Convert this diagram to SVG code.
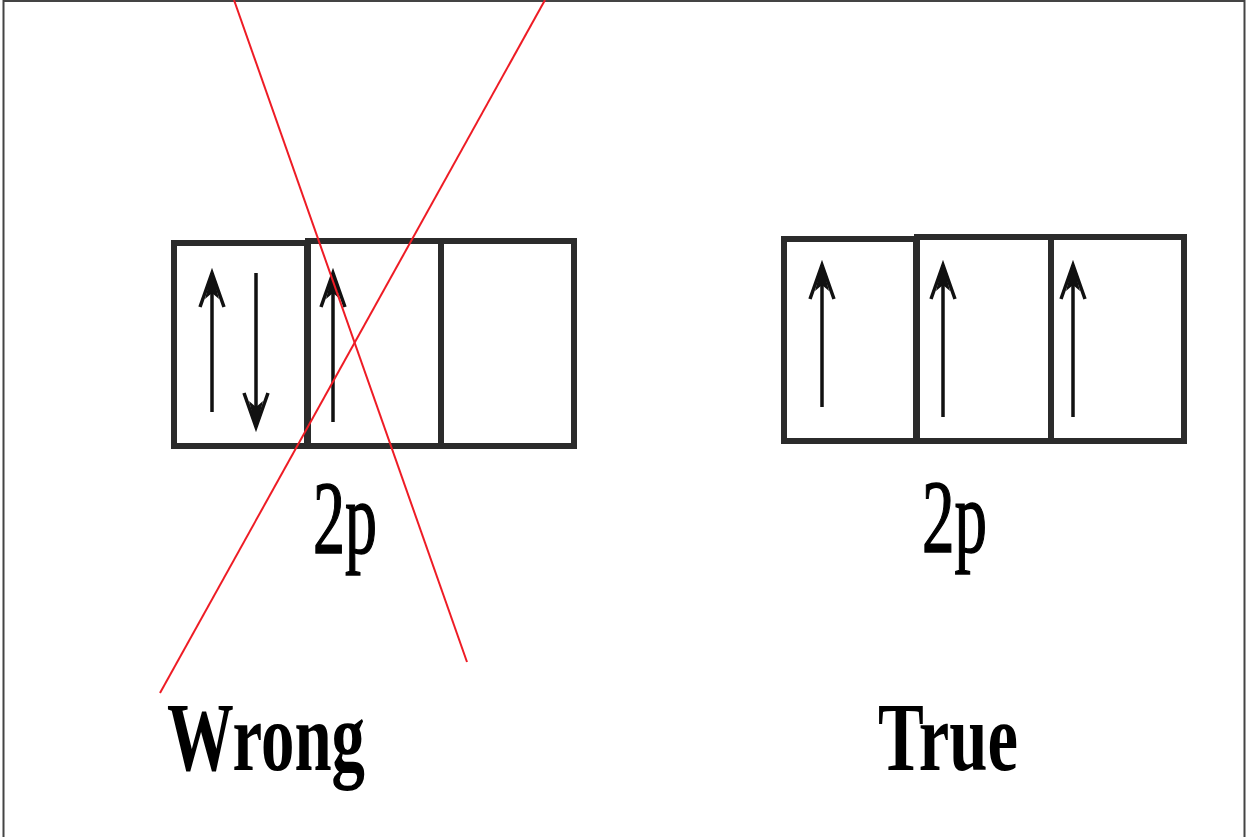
<svg xmlns="http://www.w3.org/2000/svg" width="1249" height="837" viewBox="0 0 1249 837">
  <style>
    .box { fill: none; stroke: #2b2b2b; stroke-width: 6; }
    .spin { stroke: #111; stroke-width: 3.5; fill: none; marker-end: url(#head); }
    .lbl { font-family: "Liberation Serif", "Times New Roman", serif; font-weight: bold; fill: #000; }
    .sub { font-family: "Liberation Serif", "Times New Roman", serif; font-weight: normal; fill: #000; stroke: #000; stroke-width: 1.5; }
    .strike { stroke: #ee1c25; stroke-width: 2; fill: none; }
    .frame { stroke: #444; stroke-width: 2; fill: none; }
  </style>
  <defs>
    <marker id="head" markerUnits="userSpaceOnUse" viewBox="-40 -18 42 36" refX="0" refY="0" markerWidth="42" markerHeight="36" orient="auto" overflow="visible">
      <path d="M-34,-12 L0,0 L-34,12" fill="none" stroke="#111" stroke-width="3.5" stroke-linejoin="miter"/>
      <path d="M1,0 L-26,-7 L-20,0 L-26,7 Z" fill="#111"/>
    </marker>
  </defs>
  <rect width="1249" height="837" fill="#fff"/>
  <path class="frame" d="M3.5,837 V1 H1244.5 V837"/>

  <g id="wrong-orbitals">
    <rect class="box" x="174" y="243" width="133" height="203"/>
    <rect class="box" x="308" y="241" width="266" height="205"/>
    <line class="box" x1="441" y1="241" x2="441" y2="446"/>
    <line class="spin" x1="212" y1="412" x2="212" y2="273"/>
    <line class="spin" x1="256" y1="273" x2="256" y2="427"/>
    <line class="spin" x1="333" y1="422" x2="333" y2="273"/>
    <text class="sub" x="313" y="553" font-size="104" textLength="64" lengthAdjust="spacingAndGlyphs">2p</text>
  </g>

  <g id="true-orbitals">
    <rect class="box" x="784" y="239" width="132" height="202"/>
    <rect class="box" x="917" y="237" width="267" height="204"/>
    <line class="box" x1="1051" y1="237" x2="1051" y2="441"/>
    <line class="spin" x1="822" y1="407" x2="822" y2="265"/>
    <line class="spin" x1="943" y1="417" x2="943" y2="265"/>
    <line class="spin" x1="1073" y1="417" x2="1073" y2="265"/>
    <text class="sub" x="922" y="552" font-size="104" textLength="65" lengthAdjust="spacingAndGlyphs">2p</text>
  </g>

  <g id="strike">
    <line class="strike" x1="234" y1="0" x2="467" y2="662"/>
    <line class="strike" x1="545" y1="0" x2="160" y2="693"/>
  </g>

  <g id="label-wrong">
    <text class="lbl" x="167" y="770" font-size="98" textLength="198" lengthAdjust="spacingAndGlyphs">Wrong</text>
  </g>
  <g id="label-true">
    <text class="lbl" x="878" y="770" font-size="98" textLength="140" lengthAdjust="spacingAndGlyphs">True</text>
  </g>
</svg>
